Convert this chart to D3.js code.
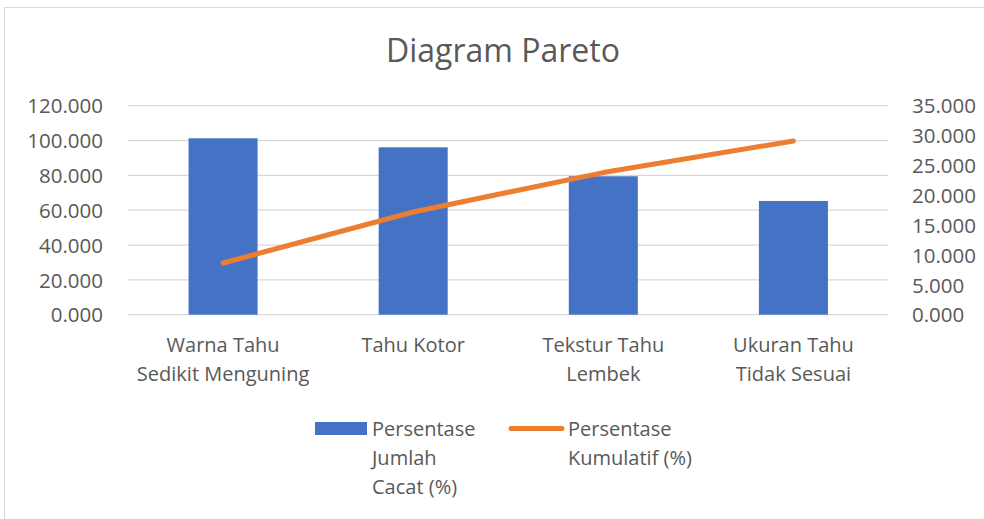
<!DOCTYPE html>
<html>
<head>
<meta charset="utf-8">
<script src="https://cdn.jsdelivr.net/npm/d3@7"></script>
<style>
  body { margin: 0; background: #fff; }
  svg text { font-family: "Open Sans", sans-serif; fill: #595959; }
</style>
</head>
<body>
<div class="chart"></div>
<script>
let categories = [
  ['Warna Tahu', 'Sedikit Menguning'],
  ['Tahu Kotor'],
  ['Tekstur Tahu', 'Lembek'],
  ['Ukuran Tahu', 'Tidak Sesuai']
];
let jumlahCacat = [101.3, 96.1, 79.5, 65.3];
let kumulatif = [8.66, 17.2, 23.8, 29.1];
let leftTicks = [0, 20, 40, 60, 80, 100, 120];
let rightTicks = [0, 5, 10, 15, 20, 25, 30, 35];

let width = 984, height = 519;
let plot = { left: 128, right: 888.5, top: 105.7, bottom: 314.7 };

let svg = d3
  .select('.chart')
  .append('svg')
  .attr('width', width)
  .attr('height', height);

// chart border
svg
  .append('rect')
  .attr('x', 4.5)
  .attr('y', 7.5)
  .attr('width', width)
  .attr('height', height)
  .attr('fill', 'none')
  .attr('stroke', '#d9d9d9');

svg
  .append('text')
  .attr('x', 503)
  .attr('y', 62)
  .attr('text-anchor', 'middle')
  .style('font-size', '32px')
  .text('Diagram Pareto');

let x = d3
  .scaleBand()
  .domain(categories.map((d, i) => i))
  .range([plot.left, plot.right])
  .paddingInner(0.637)
  .paddingOuter(0.3185);

let yLeft = d3.scaleLinear().domain([0, 120]).range([plot.bottom, plot.top]);
let yRight = d3.scaleLinear().domain([0, 35]).range([plot.bottom, plot.top]);

// gridlines
svg
  .append('g')
  .selectAll('line')
  .data(leftTicks)
  .enter()
  .append('line')
  .attr('x1', plot.left)
  .attr('x2', plot.right)
  .attr('y1', d => yLeft(d))
  .attr('y2', d => yLeft(d))
  .attr('stroke', '#d9d9d9')
  .attr('stroke-width', 1.3);

let leftAxis = svg
  .append('g')
  .attr('transform', `translate(${plot.left - 25},0)`)
  .call(d3.axisLeft(yLeft).tickValues(leftTicks).tickFormat(d3.format('.3f')).tickSize(0).tickPadding(0));
leftAxis.select('.domain').remove();
leftAxis.selectAll('text').style('font-size', '20.5px').attr('dy', '0.35em');

let rightAxis = svg
  .append('g')
  .attr('transform', `translate(${plot.right + 23.5},0)`)
  .call(d3.axisRight(yRight).tickValues(rightTicks).tickFormat(d3.format('.3f')).tickSize(0).tickPadding(0));
rightAxis.select('.domain').remove();
rightAxis.selectAll('text').style('font-size', '20.5px').attr('dy', '0.35em');

// bars
svg
  .append('g')
  .selectAll('rect')
  .data(jumlahCacat)
  .enter()
  .append('rect')
  .attr('x', (d, i) => x(i))
  .attr('width', x.bandwidth())
  .attr('y', d => yLeft(d))
  .attr('height', d => yLeft(0) - yLeft(d))
  .attr('fill', '#4472c4');

// line on secondary axis
let line = d3
  .line()
  .x((d, i) => x(i) + x.bandwidth() / 2)
  .y(d => yRight(d));

svg
  .append('path')
  .datum(kumulatif)
  .attr('d', line)
  .attr('fill', 'none')
  .attr('stroke', '#ed7d31')
  .attr('stroke-width', 5)
  .attr('stroke-linecap', 'round')
  .attr('stroke-linejoin', 'round');

// category labels
let catLabels = svg
  .append('g')
  .selectAll('text')
  .data(categories)
  .enter()
  .append('text')
  .attr('text-anchor', 'middle')
  .style('font-size', '20px')
  .attr('transform', (d, i) => `translate(${x(i) + x.bandwidth() / 2},352)`);
catLabels
  .selectAll('tspan')
  .data(d => d)
  .enter()
  .append('tspan')
  .attr('x', 0)
  .attr('y', (d, i) => i * 29)
  .text(d => d);

// legend
let legend = svg.append('g');
legend
  .append('rect')
  .attr('x', 315)
  .attr('y', 422)
  .attr('width', 52)
  .attr('height', 13)
  .attr('fill', '#4472c4');
legend
  .append('line')
  .attr('x1', 511)
  .attr('x2', 562)
  .attr('y1', 428.5)
  .attr('y2', 428.5)
  .attr('stroke', '#ed7d31')
  .attr('stroke-width', 5)
  .attr('stroke-linecap', 'round');

let legendTexts = [
  { x: 372, lines: ['Persentase', 'Jumlah', 'Cacat (%)'] },
  { x: 568, lines: ['Persentase', 'Kumulatif (%)'] }
];
legend
  .selectAll('text')
  .data(legendTexts)
  .enter()
  .append('text')
  .style('font-size', '20px')
  .attr('transform', d => `translate(${d.x},436)`)
  .selectAll('tspan')
  .data(d => d.lines)
  .enter()
  .append('tspan')
  .attr('x', 0)
  .attr('y', (d, i) => i * 29)
  .text(d => d);
</script>
</body>
</html>
